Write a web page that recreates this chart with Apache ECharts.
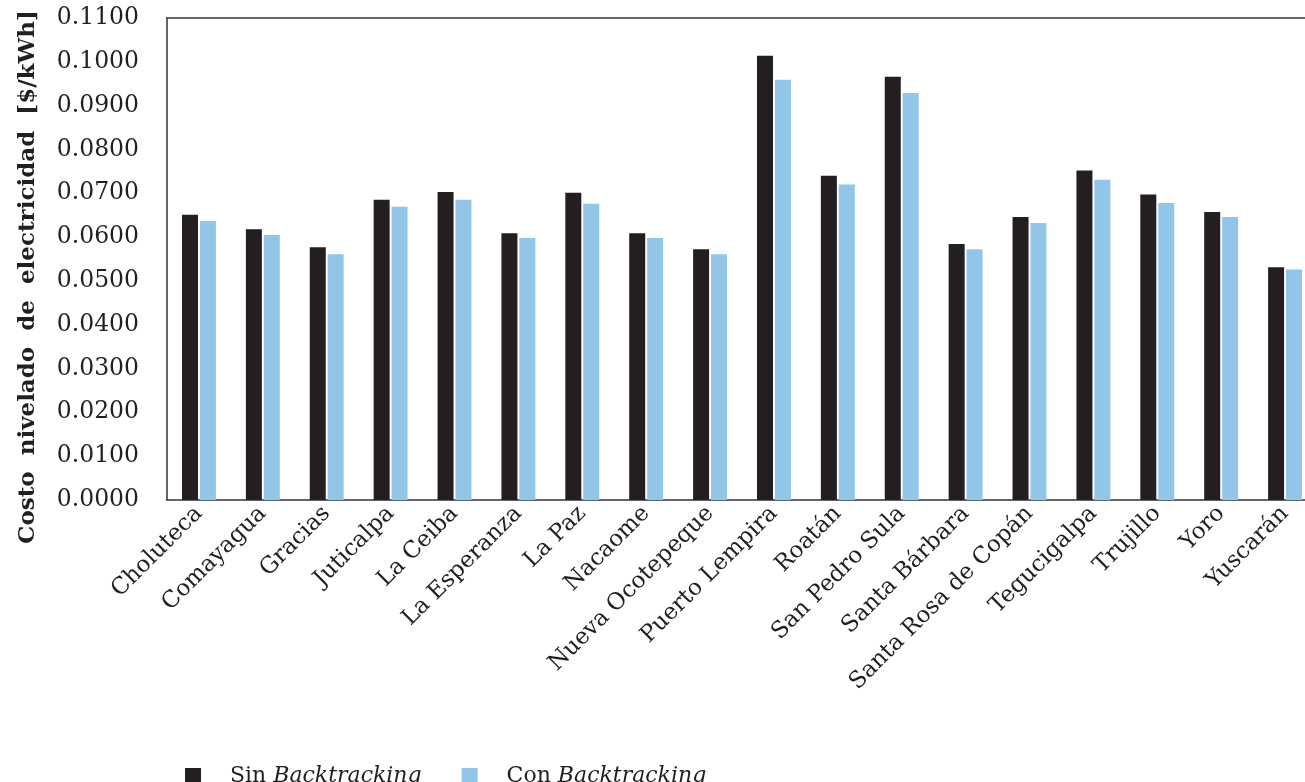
<!DOCTYPE html>
<html>
<head>
<meta charset="utf-8">
<script src="https://cdn.jsdelivr.net/npm/echarts@6/dist/echarts.min.js"></script>
<style>
  html, body { margin: 0; padding: 0; background: #ffffff; }
  #chart { width: 1305px; height: 782px; }
</style>
</head>
<body>
<div id="chart"></div>
<script>
// Cities (x-axis categories)
const cities = [
  'Choluteca', 'Comayagua', 'Gracias', 'Juticalpa', 'La Ceiba', 'La Esperanza',
  'La Paz', 'Nacaome', 'Nueva Ocotepeque', 'Puerto Lempira', 'Roatán',
  'San Pedro Sula', 'Santa Bárbara', 'Santa Rosa de Copán', 'Tegucigalpa',
  'Trujillo', 'Yoro', 'Yuscarán'
];

// Levelized cost of electricity [$/kWh] without backtracking
const sinBacktracking = [
  0.0651, 0.0618, 0.0577, 0.0685, 0.0703, 0.0609,
  0.0701, 0.0609, 0.0572, 0.1014, 0.0740,
  0.0966, 0.0584, 0.0646, 0.0752,
  0.0697, 0.0657, 0.0531
];

// Levelized cost of electricity [$/kWh] with backtracking
const conBacktracking = [
  0.0637, 0.0605, 0.0561, 0.0669, 0.0685, 0.0598,
  0.0676, 0.0598, 0.0561, 0.0959, 0.0720,
  0.0929, 0.0572, 0.0632, 0.0731,
  0.0678, 0.0646, 0.0526
];

// Y-axis range
const yMin = 0;
const yMax = 0.11;
const yStep = 0.01;

const FONT = 'DejaVu Serif';
const INK = '#231f20';
const BLUE = '#92c5ea';
const FRAME = { show: true, lineStyle: { color: '#333333', width: 1.5 } };

const chart = echarts.init(document.getElementById('chart'), null, { renderer: 'canvas' });

chart.setOption({
  animation: false,
  backgroundColor: '#ffffff',
  textStyle: { fontFamily: FONT, color: INK },
  grid: {
    left: 167, right: -12, top: 18, bottom: 282,
    outerBoundsMode: 'none',
    containLabel: false,
    show: false
  },
  legend: {
    left: 180, top: 760,
    itemWidth: 16, itemHeight: 16, itemGap: 40,
    icon: 'rect',
    data: ['Sin', 'Con'],
    formatter: function (name) {
      return name + ' {i|Backtracking}';
    },
    textStyle: {
      fontFamily: FONT, fontSize: 22, color: INK,
      padding: [0, 0, 0, 24],
      rich: { i: { fontFamily: FONT, fontStyle: 'italic', fontSize: 22, color: INK } }
    }
  },
  xAxis: [
    {
      type: 'category',
      data: cities,
      axisLine: FRAME,
      axisTick: { show: false },
      axisLabel: {
        interval: 0, rotate: 45, margin: 10,
        fontFamily: FONT, fontSize: 23, color: INK
      }
    },
    {
      // top edge of the plot frame
      type: 'category',
      position: 'top',
      data: cities,
      axisLine: FRAME,
      axisTick: { show: false },
      axisLabel: { show: false }
    }
  ],
  yAxis: {
    type: 'value',
    min: yMin, max: yMax, interval: yStep,
    name: 'Costo  nivelado  de  electricidad  [$/kWh]',
    nameLocation: 'middle',
    nameGap: 127,
    nameTextStyle: {
      fontFamily: FONT, fontSize: 23, fontWeight: 'bold', color: INK,
      padding: [0, 36, 0, 0]
    },
    axisLine: FRAME,
    axisTick: { show: false },
    splitLine: { show: false },
    axisLabel: {
      margin: 28,
      fontFamily: FONT, fontSize: 23.5, color: INK,
      formatter: function (v) { return v.toFixed(4); }
    }
  },
  series: [
    {
      name: 'Sin', type: 'bar', data: sinBacktracking,
      barWidth: 16, barGap: '12%',
      itemStyle: { color: INK }
    },
    {
      name: 'Con', type: 'bar', data: conBacktracking,
      barWidth: 16, barGap: '12%',
      itemStyle: { color: BLUE }
    }
  ]
});
</script>
</body>
</html>
